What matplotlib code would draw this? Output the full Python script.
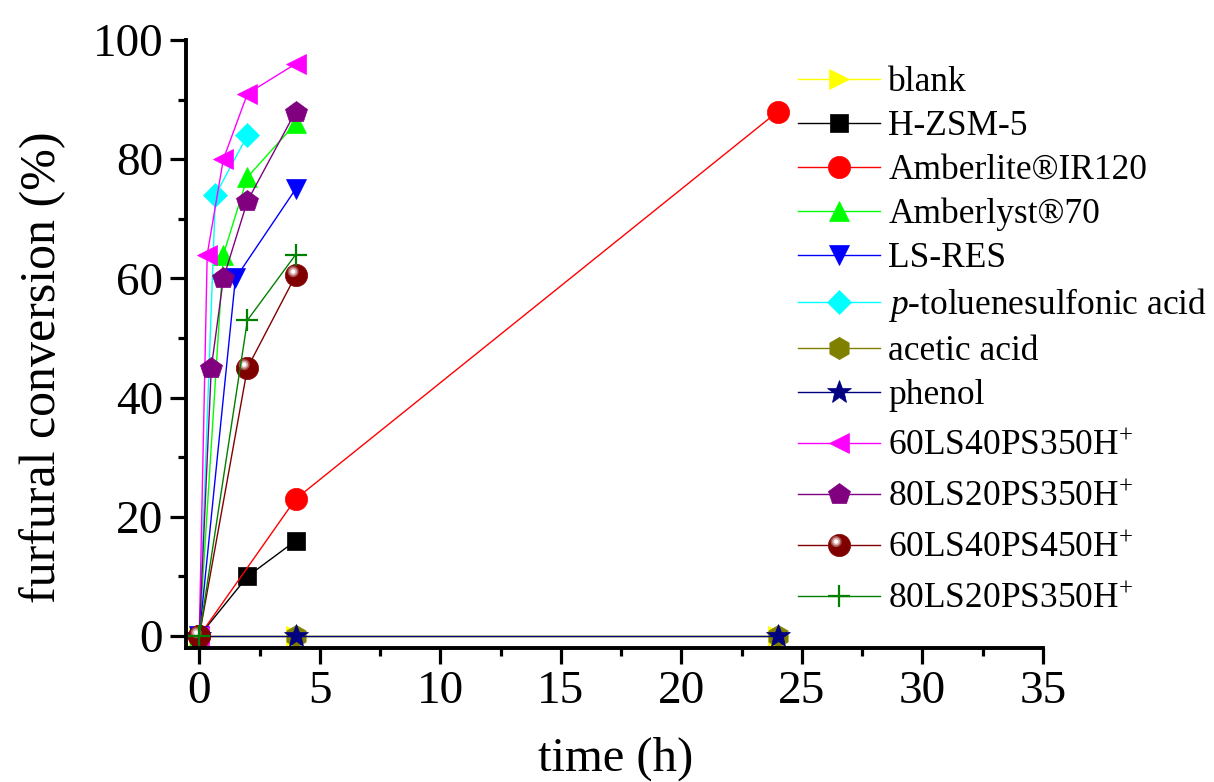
import matplotlib
matplotlib.use("Agg")
import numpy as np
import matplotlib.pyplot as plt
from matplotlib.path import Path
from matplotlib.legend_handler import HandlerTuple
from matplotlib.ticker import MultipleLocator

plt.rcParams['font.family'] = ['Liberation Serif', 'DejaVu Serif']
plt.rcParams['mathtext.fontset'] = 'custom'
plt.rcParams['mathtext.rm'] = 'Liberation Serif'
plt.rcParams['mathtext.it'] = 'Liberation Serif:italic'

# ---- data ----
blank_t = [0, 4, 24];            blank_y = [0, 0, 0]
hzsm_t = [0, 2, 4];              hzsm_y = [0, 10, 16]
ir120_t = [0, 4, 24];            ir120_y = [0, 23, 88]
a70_t = [0, 1, 2, 4];            a70_y = [0, 64, 77, 86]
lsres_t = [0, 1.5, 4];           lsres_y = [0, 60, 75]
ptsa_t = [0, 0.67, 2];           ptsa_y = [0, 74, 84]
acetic_t = [0, 4, 24];           acetic_y = [0, 0, 0]
phenol_t = [0, 4, 24];           phenol_y = [0, 0, 0]
ls60_350_t = [0, 0.33, 1, 2, 4]; ls60_350_y = [0, 64, 80, 91, 96]
ls80_350_t = [0, 0.5, 1, 2, 4];  ls80_350_y = [0, 45, 60, 73, 88]
ls60_450_t = [0, 2, 4];          ls60_450_y = [0, 45, 60.5]
ls80_350b_t = [0, 2, 4];         ls80_350b_y = [0, 53, 64]

labels = ["blank", "H-ZSM-5", "Amberlite®IR120", "Amberlyst®70", "LS-RES",
          r"$\it{p}$-toluenesulfonic acid", "acetic acid", "phenol",
          r"60LS40PS350H$^{+}$", r"80LS20PS350H$^{+}$",
          r"60LS40PS450H$^{+}$", r"80LS20PS350H$^{+}$"]

xticks = [0, 5, 10, 15, 20, 25, 30, 35]
yticks = [0, 20, 40, 60, 80, 100]

fig = plt.figure(figsize=(12.14, 7.82), dpi=100)
ax = fig.add_axes([0.15321, 0.17136, 0.70593, 0.77749])

lw = 1.0
handles = []

def plot(t, y, color, marker, ms, **kw):
    ln, = ax.plot(t, y, color=color, lw=lw, marker=marker, ms=ms,
                  mfc=kw.pop('mfc', color), mec=kw.pop('mec', color),
                  mew=kw.pop('mew', 0.5), **kw)
    return ln

handles.append(plot(blank_t, blank_y, '#FFFF00', '>', 15))
handles.append(plot(hzsm_t, hzsm_y, '#000000', 's', 12.5))
handles.append(plot(ir120_t, ir120_y, '#FF0000', 'o', 16))
handles.append(plot(a70_t, a70_y, '#00FF00', '^', 15))
handles.append(plot(lsres_t, lsres_y, '#0000FF', 'v', 15))
handles.append(plot(ptsa_t, ptsa_y, '#00FFFF', 'D', 12.5))
handles.append(plot(acetic_t, acetic_y, '#808000', 'h', 16))
handles.append(plot(phenol_t, phenol_y, '#000080', '*', 18))
handles.append(plot(ls60_350_t, ls60_350_y, '#FF00FF', '<', 15))
handles.append(plot(ls80_350_t, ls80_350_y, '#800080', 'p', 16))

# sphere marker with highlight
sph = plot(ls60_450_t, ls60_450_y, '#800000', 'o', 16)

def offset_circle(cx, cy, r, n=40):
    a = np.linspace(0, 2 * np.pi, n, endpoint=False)
    pts = np.column_stack([cx + r * np.cos(a), cy + r * np.sin(a)])
    verts = np.vstack([[[-1, -1], [1, 1]], pts, pts[:1]])
    codes = [Path.MOVETO, Path.MOVETO, Path.MOVETO] + [Path.LINETO] * (n - 1) + [Path.CLOSEPOLY]
    return Path(verts, codes)

hl1, = ax.plot(ls60_450_t, ls60_450_y, ls='none', marker=offset_circle(-0.3, 0.35, 0.5),
               ms=16, mfc='#a85050', mec='none', mew=0)
hl2, = ax.plot(ls60_450_t, ls60_450_y, ls='none', marker=offset_circle(-0.3, 0.35, 0.36),
               ms=16, mfc='#d8a8a8', mec='none', mew=0)
hl3, = ax.plot(ls60_450_t, ls60_450_y, ls='none', marker=offset_circle(-0.3, 0.35, 0.2),
               ms=16, mfc='#ffffff', mec='none', mew=0)
handles.append((sph, hl1, hl2, hl3))

handles.append(plot(ls80_350b_t, ls80_350b_y, '#008000', '+', 16, mew=1.6))

ax.set_xlim(-0.55, 35)
ax.set_ylim(-2, 100)
ax.set_xticks(xticks)
ax.set_yticks(yticks)
ax.xaxis.set_minor_locator(MultipleLocator(2.5))
ax.yaxis.set_minor_locator(MultipleLocator(10))
for s in ['top', 'right']:
    ax.spines[s].set_visible(False)
for s in ['left', 'bottom']:
    ax.spines[s].set_linewidth(2.8)
ax.tick_params(which='major', direction='out', length=11.5, width=2.3, labelsize=34, pad=5)
ax.tick_params(which='minor', direction='out', length=6, width=2.3)

fig.text(0.0350, 0.531, "furfural conversion (%)", rotation=90, ha='center', va='center', fontsize=36)
fig.text(0.507, 0.030, "time (h)", ha='center', va='center', fontsize=35)

leg_kw = dict(loc='upper left', bbox_transform=fig.transFigure, frameon=False,
              fontsize=25.5, numpoints=1, borderpad=0, borderaxespad=0,
              handlelength=2.32, handletextpad=0.23,
              handler_map={tuple: HandlerTuple(ndivide=1, pad=0)})
leg1 = ax.legend(handles[:8], labels[:8], bbox_to_anchor=(798 / 1214, 1 - 66 / 782),
                 labelspacing=0.31, **leg_kw)
ax.add_artist(leg1)
leg2 = ax.legend(handles[8:], labels[8:], bbox_to_anchor=(798 / 1214, 1 - 430 / 782),
                 labelspacing=0.51, **leg_kw)

fig.savefig("out.png", dpi=100)
